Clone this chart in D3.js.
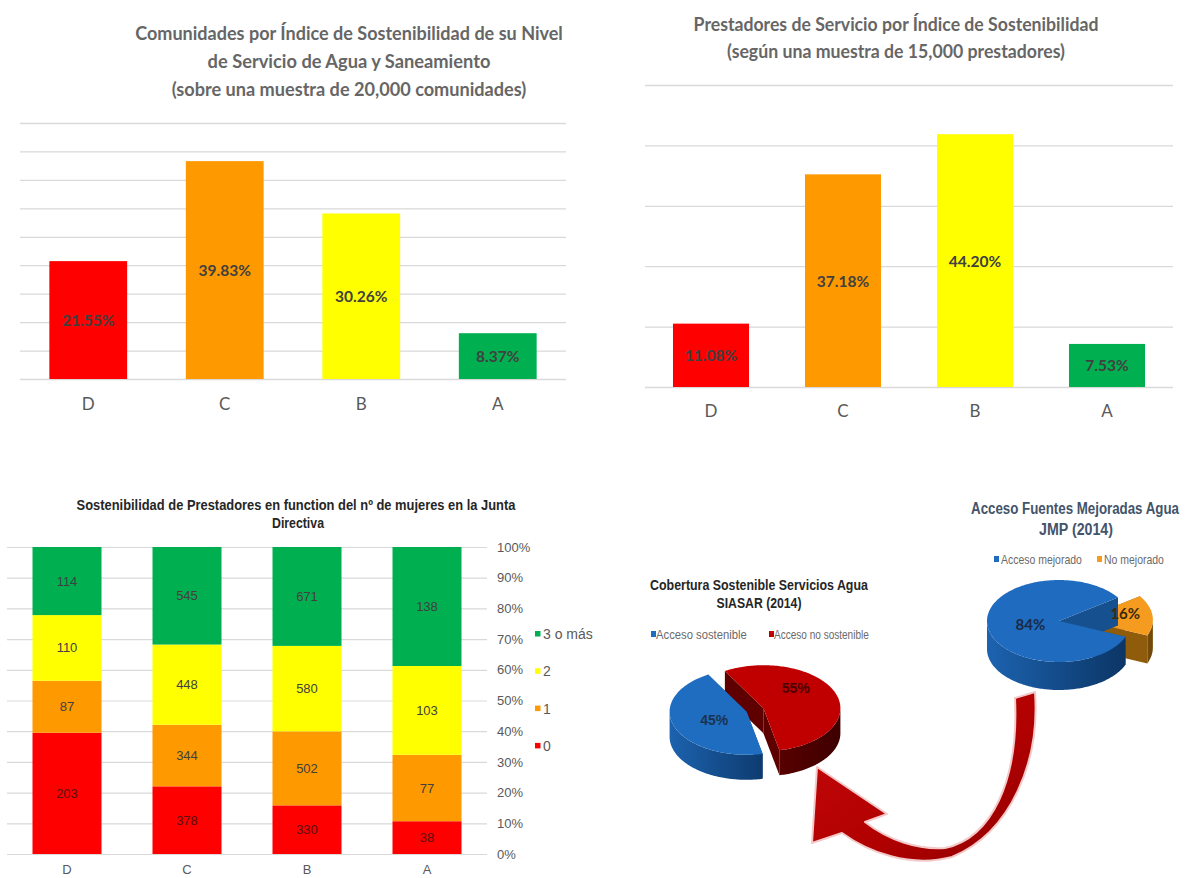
<!DOCTYPE html>
<html><head><meta charset="utf-8">
<script src="https://cdn.jsdelivr.net/npm/d3@7"></script>
<style>body{margin:0;background:#fff} svg{display:block}</style>
</head><body>
<svg id="c" width="1186" height="878"></svg>
<script>
// ---------------- DATA ----------------
const grades = ["D", "C", "B", "A"];
const gradeColors = ["#FF0000", "#FF9900", "#FFFF00", "#00B050"];

const comunidadesPct = [21.55, 39.83, 30.26, 8.37];
const comunidadesAxisMax = 46.8;
const comunidadesGridCount = 9;

const prestadoresPct = [11.08, 37.18, 44.20, 7.53];
const prestadoresAxisMax = 52.8;
const prestadoresGridCount = 5;

const mujeresSeries = ["0", "1", "2", "3 o más"];
const mujeres0 = [203, 378, 330, 38];
const mujeres1 = [87, 344, 502, 77];
const mujeres2 = [110, 448, 580, 103];
const mujeres3 = [114, 545, 671, 138];
const pctTicks = [0, 0.1, 0.2, 0.3, 0.4, 0.5, 0.6, 0.7, 0.8, 0.9, 1];

const siasarLabels = ["Acceso sostenible", "Acceso no sostenible"];
const siasarValues = [45, 55];
const jmpLabels = ["Acceso mejorado", "No mejorado"];
const jmpValues = [84, 16];

// ---------------- SETUP ----------------
const svg = d3.select("#c");
svg.append("rect").attr("width", 1186).attr("height", 878).attr("fill", "#fff");
const defs = svg.append("defs");
const calibri = "Lato, 'Open Sans', 'Noto Sans', sans-serif";
const narrow = "'Liberation Sans Narrow', 'Arial Narrow', 'Liberation Sans', Arial, sans-serif";

// text helper: fits width by horizontal scaling (transform) instead of textLength
function txt(g, s, x, y, o) {
  const t = g.append("text").text(s)
    .attr("text-anchor", o.anchor || "middle")
    .attr("font-family", o.family).attr("font-size", o.size)
    .attr("font-weight", o.weight || 400).attr("fill", o.fill || "#595959");
  let sx = 1;
  if (o.width) {
    const w = t.node().getComputedTextLength();
    if (w > 0) sx = o.width / w;
  }
  t.attr("transform", `translate(${x},${y}) scale(${sx},1)`);
  return t;
}

// ---------------- SIMPLE BAR CHART ----------------
function barChart(o) {
  const g = svg.append("g");
  const x = d3.scaleBand().domain(grades).range([o.x0, o.x1])
    .paddingInner(o.pad).paddingOuter(o.pad / 2);
  const y = d3.scaleLinear().domain([0, o.max]).range([o.base, o.top]);
  const gridVals = d3.range(o.gridN + 1).map(i => o.max * i / o.gridN);
  const ga = g.append("g").attr("transform", `translate(${o.x0},0)`)
    .call(d3.axisLeft(y).tickValues(gridVals).tickSize(-(o.x1 - o.x0)).tickFormat(""));
  ga.select(".domain").remove();
  ga.selectAll("line").attr("stroke", "#d9d9d9").attr("stroke-width", 1.3);
  g.selectAll("rect.bar").data(o.values).join("rect").attr("class", "bar")
    .attr("x", (d, i) => x(grades[i])).attr("width", x.bandwidth())
    .attr("y", d => y(d)).attr("height", d => y(0) - y(d))
    .attr("fill", (d, i) => gradeColors[i]);
  g.selectAll("text.val").data(o.values).join("text").attr("class", "val")
    .attr("x", (d, i) => x(grades[i]) + x.bandwidth() / 2)
    .attr("y", d => (y(d) + y(0)) / 2 + 6)
    .attr("text-anchor", "middle").attr("font-family", calibri)
    .attr("font-weight", 700).attr("font-size", 15.5).attr("fill", "#404040")
    .text(d => d.toFixed(2) + "%");
  const ax = g.append("g").attr("transform", `translate(0,${o.base})`)
    .call(d3.axisBottom(x).tickSize(0).tickPadding(o.labPad));
  ax.select(".domain").remove();
  ax.selectAll("text").attr("font-family", calibri).attr("font-size", 17)
    .attr("fill", "#595959");
  o.title.forEach((l, i) => txt(g, l.s, o.titleX, l.y,
    { family: calibri, size: 18.5, weight: 700, fill: "#666666", width: l.w }));
}

barChart({
  x0: 20, x1: 566, pad: 0.43, base: 379, top: 123, max: comunidadesAxisMax,
  gridN: comunidadesGridCount, values: comunidadesPct, labPad: 19, titleX: 349,
  title: [
    { s: "Comunidades por Índice de Sostenibilidad de su Nivel", y: 40, w: 428 },
    { s: "de Servicio de Agua y Saneamiento", y: 68, w: 283 },
    { s: "(sobre una muestra de 20,000 comunidades)", y: 96, w: 355 }]
});
barChart({
  x0: 645, x1: 1173, pad: 0.424, base: 387, top: 85, max: prestadoresAxisMax,
  gridN: prestadoresGridCount, values: prestadoresPct, labPad: 18, titleX: 896,
  title: [
    { s: "Prestadores de Servicio por Índice de Sostenibilidad", y: 31, w: 405 },
    { s: "(según una muestra de 15,000 prestadores)", y: 58, w: 338 }]
});

// ---------------- STACKED 100% CHART ----------------
(function () {
  const g = svg.append("g");
  const x0 = 7, x1 = 487, base = 854, top = 547;
  const rows = grades.map((c, i) => ({
    cat: c, "0": mujeres0[i], "1": mujeres1[i], "2": mujeres2[i], "3 o más": mujeres3[i]
  }));
  const stack = d3.stack().keys(mujeresSeries).offset(d3.stackOffsetExpand)(rows);
  const x = d3.scaleBand().domain(grades).range([x0, x1]).paddingInner(0.425).paddingOuter(0.2125);
  const y = d3.scaleLinear().domain([0, 1]).range([base, top]);
  const grid = g.append("g").attr("transform", `translate(${x0},0)`)
    .call(d3.axisLeft(y).tickValues(pctTicks).tickSize(-(x1 - x0)).tickFormat(""));
  grid.select(".domain").remove();
  grid.selectAll("line").attr("stroke", "#d9d9d9").attr("stroke-width", 1.2);
  const yax = g.append("g").attr("transform", `translate(${x1},0)`)
    .call(d3.axisRight(y).tickValues(pctTicks).tickSize(0).tickPadding(10).tickFormat(d3.format(".0%")));
  yax.select(".domain").remove();
  yax.selectAll("text").attr("font-family", narrow).attr("font-size", 13).attr("fill", "#595959");
  stack.forEach((s, si) => {
    const col = gradeColors[si];
    g.selectAll(null).data(s).join("rect")
      .attr("x", d => x(d.data.cat)).attr("width", x.bandwidth())
      .attr("y", d => y(d[1])).attr("height", d => y(d[0]) - y(d[1]))
      .attr("fill", col);
    g.selectAll(null).data(s).join("text")
      .attr("x", d => x(d.data.cat) + x.bandwidth() / 2)
      .attr("y", d => (y(d[0]) + y(d[1])) / 2 + 4.5)
      .attr("text-anchor", "middle").attr("font-family", narrow).attr("font-size", 13)
      .attr("fill", si === 0 ? "#5a1010" : "#404040").text(d => d.data[s.key]);
  });
  const ax = g.append("g").attr("transform", `translate(0,${base})`)
    .call(d3.axisBottom(x).tickSize(0).tickPadding(11));
  ax.select(".domain").remove();
  ax.selectAll("text").attr("font-family", narrow).attr("font-size", 13).attr("fill", "#595959");
  // legend
  const leg = mujeresSeries.slice().reverse();
  leg.forEach((k, i) => {
    const ly = 634 + i * 37.3;
    const ci = mujeresSeries.indexOf(k);
    g.append("rect").attr("x", 535).attr("y", ly - 3).attr("width", 5.5).attr("height", 5.5)
      .attr("fill", gradeColors[ci]);
    txt(g, k, 543, ly + 5, { family: narrow, size: 14, anchor: "start", fill: "#595959" });
  });
  txt(g, "Sostenibilidad de Prestadores en function del nº de mujeres en la Junta", 296, 510,
    { family: narrow, size: 14.5, weight: 700, fill: "#262626", width: 439 });
  txt(g, "Directiva", 298, 528, { family: narrow, size: 14.5, weight: 700, fill: "#262626", width: 52 });
})();

// ---------------- 3D PIES ----------------
function sideGrad(id, c1, c2, xa, xb) {
  const lg = defs.append("linearGradient").attr("id", id).attr("gradientUnits", "userSpaceOnUse")
    .attr("x1", xa).attr("x2", xb).attr("y1", 0).attr("y2", 0);
  lg.append("stop").attr("offset", 0).attr("stop-color", c1);
  lg.append("stop").attr("offset", 1).attr("stop-color", c2);
}
function pie3D(values, st, o) {
  const g = svg.append("g");
  const pie = d3.pie().sort(null).startAngle(o.start).endAngle(o.start + 2 * Math.PI);
  const arcs = pie(values);
  const slices = arcs.map((d, i) => {
    const a0 = d.startAngle - Math.PI / 2, a1 = d.endAngle - Math.PI / 2;
    const mid = (a0 + a1) / 2, e = o.explode[i];
    return { d, i, a0, a1, mid,
      cx: o.cx + e * Math.cos(mid), cy: o.cy + e * Math.sin(mid) * o.ry / o.rx };
  });
  const P = (s, t, z) => [s.cx + o.rx * Math.cos(t), s.cy + o.ry * Math.sin(t) + z];
  const pts = (s, t0, t1, z) => {
    const n = Math.max(2, Math.ceil(Math.abs(t1 - t0) / 0.02));
    return d3.range(n + 1).map(k => P(s, t0 + (t1 - t0) * k / n, z));
  };
  const line = d3.line();
  slices.slice().sort((a, b) => Math.sin(a.mid) - Math.sin(b.mid)).forEach(s => {
    const c = st[s.i];
    [s.a0, s.a1].forEach(t => {
      g.append("path").attr("d", line([[s.cx, s.cy], P(s, t, 0), P(s, t, o.depth), [s.cx, s.cy + o.depth]]) + "Z")
        .attr("fill", c.cut);
    });
    for (let k = -2; k <= 2; k++) {
      const lo = Math.max(s.a0, 2 * Math.PI * k), hi = Math.min(s.a1, 2 * Math.PI * k + Math.PI);
      if (hi > lo) {
        g.append("path").attr("d", line(pts(s, lo, hi, 0).concat(pts(s, hi, lo, o.depth))) + "Z")
          .attr("fill", `url(#${c.side})`);
      }
    }
    g.append("path").attr("d", line([[s.cx, s.cy]].concat(pts(s, s.a0, s.a1, 0))) + "Z")
      .attr("fill", c.top);
  });
  slices.forEach(s => {
    const c = st[s.i];
    txt(g, Math.round(values[s.i]) + "%",
      s.cx + o.labR[s.i] * o.rx * Math.cos(s.mid),
      s.cy + o.labR[s.i] * o.ry * Math.sin(s.mid) + o.labDy[s.i],
      { family: o.labFamily, size: o.labSize, weight: 700, fill: c.lab });
  });
  return g;
}

// Left pie: SIASAR
sideGrad("gBlueL", "#1C62AE", "#0B3463", 670, 780);
sideGrad("gRedL", "#7A0000", "#3E0000", 700, 840);
pie3D(siasarValues, [
  { top: "#1F6DC0", side: "gBlueL", cut: "#17508F", lab: "#1b3350" },
  { top: "#C00000", side: "gRedL", cut: "#5E0000", lab: "#4a0000" }], {
  cx: 755, cy: 710, rx: 77, ry: 43, depth: 25, start: 168 * Math.PI / 180,
  explode: [9, 9], labR: [0.45, 0.45], labDy: [6, -8], labFamily: narrow, labSize: 14
});
(function () {
  const g = svg.append("g");
  txt(g, "Cobertura Sostenible Servicios Agua", 759, 590, { family: narrow, size: 15, weight: 700, fill: "#262626", width: 218 });
  txt(g, "SIASAR (2014)", 759, 608, { family: narrow, size: 15, weight: 700, fill: "#262626", width: 85 });
  const lx = [651, 769], cols = ["#1F6DC0", "#C00000"], tw = [91, 95];
  siasarLabels.forEach((l, i) => {
    g.append("rect").attr("x", lx[i]).attr("y", 631).attr("width", 5).attr("height", 6).attr("fill", cols[i]);
    txt(g, l, lx[i] + 5, 638.5, { family: narrow, size: 12, anchor: "start", fill: "#6a6a6a", width: tw[i] });
  });
})();

// Right pie: JMP
sideGrad("gBlueR", "#1C62AE", "#0B3463", 990, 1130);
sideGrad("gOrR", "#B07414", "#6A4406", 1080, 1160);
pie3D(jmpValues, [
  { top: "#1F6BBF", side: "gBlueR", cut: "#17508F", lab: "#1a2a45" },
  { top: "#F59B1F", side: "gOrR", cut: "#8F5C0C", lab: "#3a2a0a" }], {
  cx: 1059, cy: 621, rx: 72, ry: 41, depth: 28, start: 112.6 * Math.PI / 180,
  explode: [0, 22], labR: [0.4, 0.62], labDy: [7, 2], labFamily: calibri, labSize: 15
});
(function () {
  const g = svg.append("g");
  txt(g, "Acceso Fuentes Mejoradas Agua", 1075, 514, { family: narrow, size: 16, weight: 700, fill: "#44546A", width: 208 });
  txt(g, "JMP (2014)", 1076, 535, { family: narrow, size: 16, weight: 700, fill: "#44546A", width: 74 });
  const lx = [994, 1097], cols = ["#1F6BBF", "#F59B1F"], tw = [81, 60];
  jmpLabels.forEach((l, i) => {
    g.append("rect").attr("x", lx[i]).attr("y", 556).attr("width", 5).attr("height", 6).attr("fill", cols[i]);
    txt(g, l, lx[i] + 7, 563.5, { family: narrow, size: 12, anchor: "start", fill: "#6a6a6a", width: tw[i] });
  });
})();

// ---------------- CURVED ARROW (decoration) ----------------
(function () {
  const lg = defs.append("linearGradient").attr("id", "gArrow").attr("x1", 0).attr("x2", 1).attr("y1", 0).attr("y2", 1);
  lg.append("stop").attr("offset", 0).attr("stop-color", "#C8090B");
  lg.append("stop").attr("offset", 0.6).attr("stop-color", "#B00000");
  lg.append("stop").attr("offset", 1).attr("stop-color", "#8E0000");
  const p = d3.path();
  p.moveTo(1035, 692);
  p.bezierCurveTo(1040, 760, 1012, 832, 952, 857);
  p.bezierCurveTo(910, 868, 868, 852, 842, 833);
  p.lineTo(812, 843);
  p.lineTo(817, 767);
  p.lineTo(887, 814);
  p.lineTo(865, 822);
  p.bezierCurveTo(888, 840, 918, 850, 945, 848);
  p.bezierCurveTo(992, 838, 1019, 780, 1015, 698);
  p.closePath();
  svg.append("path").attr("d", p.toString()).attr("fill", "url(#gArrow)")
    .attr("stroke", "#f3c9c9").attr("stroke-width", 2).attr("stroke-linejoin", "round");
})();
</script>
</body></html>
